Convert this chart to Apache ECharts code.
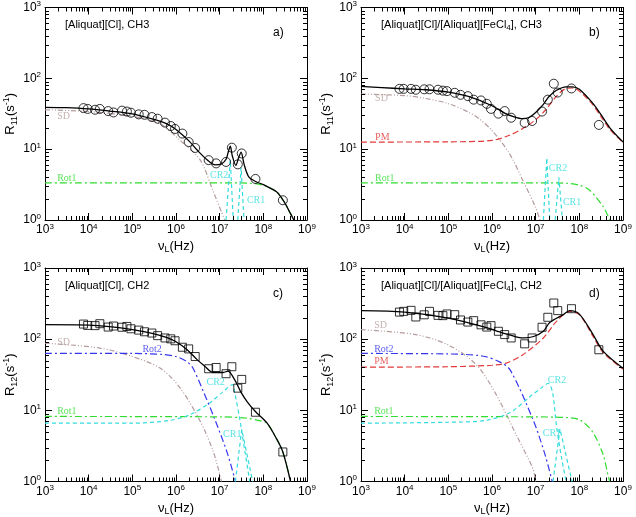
<!DOCTYPE html>
<html>
<head>
<meta charset="utf-8">
<script src="https://cdn.jsdelivr.net/npm/echarts@6/dist/echarts.min.js"></script>
<style>
  html, body { margin: 0; padding: 0; background: #fff; }
  #main { width: 636px; height: 517px; }
</style>
</head>
<body>
<div id="main"></div>
<script>
// Larmor frequencies of the measured points (Hz), same set in every panel
const freqs = [7.6e3, 9.5e3, 1.4e4, 1.8e4, 2.8e4, 3.7e4, 5.8e4, 7.5e4, 9.3e4, 1.4e5, 1.9e5, 2.8e5, 3.8e5,
  5.6e5, 7.6e5, 9.5e5, 1.4e6, 1.95e6, 2.75e6, 5.6e6, 8.3e6, 1.4e7, 1.9e7, 2.6e7, 3.2e7, 6.6e7, 2.8e8];

// measured relaxation rates (s^-1)
const ratesA = [38, 37, 36, 37, 34.5, 33, 35, 34, 32.7, 31, 30.6, 28.4, 26.9, 23.7, 21.2, 19.3, 16.6, 12.6, 10.4,
  7.0, 6.3, 6.6, 10.5, 6.1, 8.7, 3.8, 1.9];
const ratesB = [71, 71, 71, 69, 70, 70, 69, 67, 66, 62.5, 58.5, 56, 50, 48.7, 43.7, 37, 31.7, 34.5, 27.8,
  23.5, 25, 34, 50, 84, 63, 72, 22];
const ratesC = [163, 156, 155, 165, 148, 153, 147, 151, 140, 134, 127, 122, 112, 104, 101, 95, 77, 73, 57,
  38.4, 40, 32.7, 41, 20.5, 27.2, 9.4, 2.6];
const ratesD = [240, 246, 254, 205, 220, 246, 216, 214, 226, 221, 186, 174, 182, 159, 148, 155, 129, 116, 104,
  86, 104, 147, 203, 322, 252, 268, 71];

// fitted curves, [frequency, rate]
const fitA = [[1e3, 39], [3e3, 38.5], [1e4, 37], [3e4, 34.5], [1e5, 31.5], [3e5, 26.5], [6e5, 23], [1e6, 19],
  [2e6, 13], [3e6, 9.8], [5e6, 7.2], [8e6, 6.0], [1.1e7, 6.2], [1.4e7, 7.2], [1.6e7, 9.5], [1.75e7, 11],
  [1.95e7, 8], [2.35e7, 5.9], [2.7e7, 7.5], [3.1e7, 9.1], [3.6e7, 6.2], [4.6e7, 4.1], [6.6e7, 3.5],
  [1e8, 3.15], [2e8, 2.5], [3e8, 1.8], [4e8, 1.3], [5e8, 1.0]];
const sdA = [[1e3, 36], [1e4, 34], [1e5, 29], [3e5, 25], [5e5, 21.7], [1.25e6, 13.3], [3.6e6, 7], [7e6, 2.6], [1.3e7, 1]];
const rot1A = [[1e3, 3.35], [1e7, 3.35], [5e7, 3.3], [1e8, 3.1], [2e8, 2.5], [3e8, 1.8], [4e8, 1.3], [5e8, 1]];
const cr2A = [[1.4e7, 1], [1.75e7, 7], [2.05e7, 1]];
const cr1A = [[2.6e7, 1], [3.1e7, 5.5], [3.6e7, 1]];

const fitB = [[1e3, 77], [3e3, 74], [1e4, 71], [3e4, 69], [1e5, 64], [3e5, 55], [1e6, 41], [2e6, 32], [3e6, 29],
  [5e6, 27], [7e6, 28], [1e7, 33], [1.5e7, 43], [2e7, 55], [3e7, 68], [5e7, 76], [7e7, 76], [1e8, 70],
  [2e8, 45], [3e8, 32], [5e8, 20], [1e9, 12.6]];
const sdB = [[1e3, 60], [1e4, 57], [3e4, 52], [1e5, 44], [3e5, 33], [5e5, 27], [1e6, 18.4], [2.5e6, 8.7],
  [5e6, 3.7], [1e7, 1.5], [1.25e7, 1]];
const pmB = [[1e3, 12.6], [1e5, 12.7], [1e6, 13.3], [2.5e6, 15.7], [5e6, 19.5], [1e7, 26], [1.7e7, 36],
  [3e7, 56], [5e7, 72], [7e7, 73], [1e8, 66], [2e8, 43], [3e8, 30], [5e8, 19], [1e9, 12.4]];
const rot1B = [[1e3, 3.35], [1e7, 3.35], [5e7, 3.3], [1e8, 3.1], [1.7e8, 2.65], [3.5e8, 1.55], [5e8, 1]];
const cr2B = [[1.5e7, 1], [1.8e7, 7.5], [2.1e7, 1]];
const cr1B = [[2.8e7, 1], [3.4e7, 4], [4.1e7, 1]];

const fitC = [[1e3, 160], [1e4, 158], [3e4, 150], [1e5, 136], [3e5, 120], [6e5, 106], [1e6, 92], [1.8e6, 71],
  [3e6, 52], [4.5e6, 42], [7e6, 34], [1.2e7, 34], [1.55e7, 35.5], [2.2e7, 27], [3e7, 18.5], [4.2e7, 13.4],
  [6.5e7, 9.7], [1.2e8, 6.7], [2e8, 4.0], [2.8e8, 2.6], [4.2e8, 1]];
const sdC = [[1e3, 88], [1.8e4, 75], [1e5, 57], [4.4e5, 39], [1.25e6, 20.5], [3.6e6, 7], [7.2e6, 2.6], [1.1e7, 1]];
const rot2C = [[1e3, 63], [1e5, 63], [5e5, 61], [1e6, 57], [1.8e6, 48], [2.4e6, 40], [4e6, 20], [7.8e6, 7.4],
  [1.5e7, 2.5], [2.3e7, 1]];
const rot1C = [[1e3, 8.2], [1e7, 8.1], [4e7, 7.8], [7e7, 7.3], [1.2e8, 6.6], [2e8, 4.0], [2.8e8, 2.6], [4.2e8, 1]];
const cr2C = [[1e3, 6.6], [1e5, 6.6], [7e5, 7.2], [2.1e6, 8.7], [6e6, 12.8], [1.2e7, 18.3], [2e7, 23],
  [2.2e7, 18], [2.9e7, 7.4], [3.8e7, 2.6], [4.9e7, 1]];
const cr1C = [[2.3e7, 1], [3.2e7, 5.4], [5.7e7, 1]];

const fitD = [[1e3, 251], [1e4, 240], [1e5, 198], [6e5, 151], [1.8e6, 122], [4e6, 106], [5.5e6, 104], [9e6, 109],
  [1.5e7, 129], [2.1e7, 171], [4.3e7, 221], [6e7, 251], [1e8, 225], [2e8, 120], [3.5e8, 68], [1e9, 39]];
const sdD = [[1e3, 136], [1.8e4, 116], [1e5, 83], [4.4e5, 43.7], [1.25e6, 16.6], [3.6e6, 4.5], [8.7e6, 1.5], [1e7, 1]];
const rot2D = [[1e3, 63], [1e5, 62], [6e5, 58], [1.5e6, 48], [2.6e6, 37], [8.7e6, 7.4], [1.6e7, 2.5], [2.4e7, 1]];
const pmD = [[1e3, 40.5], [1e5, 41], [1e6, 43], [2.1e6, 46], [5e6, 60], [1.5e7, 104], [3e7, 178], [6e7, 245],
  [1e8, 222], [2e8, 113], [3.5e8, 65], [1e9, 38]];
const rot1D = [[1e3, 8.2], [1e7, 8.1], [5e7, 7.9], [1e8, 7.4], [2e8, 5.0], [3.5e8, 2.4], [4.5e8, 1.25], [5e8, 1]];
const cr2D = [[1e3, 6.6], [1e5, 6.8], [7e5, 7.2], [2.6e6, 9.3], [7.4e6, 15.6], [1.4e7, 21], [1.95e7, 24],
  [2.45e7, 17.5], [3e7, 6], [4e7, 2], [5e7, 1]];
const cr1D = [[2.5e7, 1], [3.6e7, 5.5], [6.8e7, 1]];

// panel texts
const panelTitles = ["[Aliquat][Cl], CH3", "[Aliquat][Cl]/[Aliquat][FeCl{s|4}], CH3",
  "[Aliquat][Cl], CH2", "[Aliquat][Cl]/[Aliquat][FeCl{s|4}], CH2"];
const panelTags = ["a)", "b)", "c)", "d)"];

const colors = { fit: "#000", sd: "#b59c9c", rot1: "#2fdc2f", rot2: "#3636ee", pm: "#e23a3a", cr: "#33dcdc" };
const dashes = { sd: [5, 2, 1, 2, 1, 2], rot1: [7, 3, 2, 3], rot2: [7, 3, 2, 3], pm: [6, 3], cr: [4, 3] };

// curve name tags: [text, freq, rate, colour key] (left edge of text)
const tagsA = [["SD", 1.9e3, 29, "sd"], ["Rot1", 1.9e3, 3.9, "rot1"], ["CR2", 6e6, 4.3, "cr"], ["CR1", 4.2e7, 1.9, "cr"]];
const tagsB = [["SD", 2.1e3, 52, "sd"], ["PM", 2.1e3, 14.8, "pm"], ["Rot1", 2.1e3, 3.9, "rot1"],
  ["CR2", 2e7, 5.4, "cr"], ["CR1", 4.2e7, 1.8, "cr"]];
const tagsC = [["SD", 1.9e3, 89, "sd"], ["Rot2", 1.7e5, 73, "rot2"], ["Rot1", 1.9e3, 9.6, "rot1"],
  ["CR2", 5e6, 24.5, "cr"], ["CR1", 1.2e7, 4.6, "cr"]];
const tagsD = [["SD", 2e3, 155, "sd"], ["Rot2", 2e3, 73, "rot2"], ["PM", 2e3, 48, "pm"], ["Rot1", 2e3, 9.6, "rot1"],
  ["CR2", 1.9e7, 26, "cr"], ["CR1", 1.45e7, 4.7, "cr"]];

const grids = [
  { left: 45, top: 7, width: 262, height: 213 },
  { left: 361, top: 7, width: 262, height: 213 },
  { left: 45, top: 268, width: 262, height: 214 },
  { left: 361, top: 268, width: 262, height: 214 },
];

const sans = "Liberation Sans, Arial, sans-serif";
const serif = "Liberation Serif, Times New Roman, serif";

const powRich = {
  b: { fontSize: 12, fontFamily: sans, color: "#000", lineHeight: 12 },
  e: { fontSize: 8, fontFamily: sans, color: "#000", lineHeight: 8, padding: [0, 0, 7, 0] },
};
function pow10(v) {
  return "{b|10}{e|" + Math.round(Math.log10(v)) + "}";
}

function makeAxis(i, pos, min, max, showLabel) {
  return {
    type: "log", logBase: 10, gridIndex: i, position: pos, min: min, max: max,
    axisLine: { show: true, onZero: false, lineStyle: { color: "#000", width: 1 } },
    axisTick: { show: true, inside: true, length: 7, lineStyle: { color: "#000", width: 1 } },
    splitLine: { show: false },
    axisLabel: { show: showLabel, formatter: pow10, rich: powRich, margin: 4 },
  };
}

const xAxes = [], yAxes = [];
grids.forEach((g, i) => {
  const xb = makeAxis(i, "bottom", 1e3, 1e9, true);
  xb.name = "{n|ν}{s|L}{n|(Hz)}";
  xb.nameLocation = "middle";
  xb.nameGap = 20;
  xb.nameTextStyle = { rich: {
    n: { fontSize: 13, fontFamily: sans, color: "#000", lineHeight: 13 },
    s: { fontSize: 9, fontFamily: sans, color: "#000", lineHeight: 9, padding: [7, 0, 0, 0] },
  } };
  xAxes.push(xb, makeAxis(i, "top", 1e3, 1e9, false));
  const yl = makeAxis(i, "left", 1, 1e3, true);
  yl.name = "{n|R}{s|" + (i < 2 ? "11" : "12") + "}{n|(s}{e|-1}{n|)}";
  yl.nameLocation = "middle";
  yl.nameRotate = 90;
  yl.nameGap = 27;
  yl.nameTextStyle = { rich: {
    n: { fontSize: 13, fontFamily: sans, color: "#000", lineHeight: 13 },
    s: { fontSize: 9, fontFamily: sans, color: "#000", lineHeight: 9, padding: [7, 0, 0, 0] },
    e: { fontSize: 9, fontFamily: sans, color: "#000", lineHeight: 9, padding: [0, 0, 8, 0] },
  } };
  yAxes.push(yl, makeAxis(i, "right", 1, 1e3, false));
});

const series = [];

function curve(i, data, key) {
  series.push({
    type: "line", xAxisIndex: 2 * i, yAxisIndex: 2 * i, data: data,
    showSymbol: false, symbol: "none", smooth: key === "cr" && data.length < 4 ? false : 0.3,
    lineStyle: { color: colors[key], width: key === "fit" ? 1.3 : 1.2, type: key === "fit" ? "solid" : dashes[key] },
    z: key === "fit" ? 5 : 3, silent: true, animation: false,
  });
}

function points(i, rates, symbol) {
  series.push({
    type: "scatter", xAxisIndex: 2 * i, yAxisIndex: 2 * i,
    data: freqs.map((f, k) => [f, rates[k]]),
    symbol: symbol, symbolSize: symbol === "rect" ? 8 : 9,
    itemStyle: { color: "rgba(0,0,0,0)", borderColor: "#000", borderWidth: 1 },
    z: 6, silent: true, animation: false,
  });
}

function tags(i, list) {
  series.push({
    type: "scatter", xAxisIndex: 2 * i, yAxisIndex: 2 * i, symbolSize: 0, silent: true, animation: false, z: 7,
    data: list.map(t => ({ name: t[0], value: [t[1], t[2]],
      label: { color: colors[t[3]] } })),
    label: { show: true, position: "inside", align: "left", verticalAlign: "middle", formatter: "{b}",
      fontFamily: serif, fontSize: 10 },
  });
}

// minor log ticks drawn on all four sides of each box
const minorMult = [2, 3, 4, 5, 6, 7, 8, 9];
const minorX = [], minorY = [];
[1e3, 1e4, 1e5, 1e6, 1e7, 1e8].forEach(d => minorMult.forEach(m => minorX.push([m * d, 1, 0])));
[1, 10, 100].forEach(d => minorMult.forEach(m => minorY.push([1e3, m * d, 1])));

function minorTicks(i) {
  series.push({
    type: "custom", xAxisIndex: 2 * i, yAxisIndex: 2 * i, silent: true, animation: false, clip: false, z: 8,
    data: minorX.concat(minorY),
    encode: { x: 0, y: 1 },
    renderItem: (params, api) => {
      const cs = params.coordSys;
      const p = api.coord([api.value(0), api.value(1)]);
      const st = { stroke: "#000", lineWidth: 1 };
      const L = 4;
      if (api.value(2) === 0) {
        const x = Math.round(p[0]) + 0.5;
        const b = cs.y + cs.height;
        return { type: "group", children: [
          { type: "line", shape: { x1: x, y1: b, x2: x, y2: b - L }, style: st },
          { type: "line", shape: { x1: x, y1: cs.y, x2: x, y2: cs.y + L }, style: st },
        ] };
      }
      const y = Math.round(p[1]) + 0.5;
      const r = cs.x + cs.width;
      return { type: "group", children: [
        { type: "line", shape: { x1: cs.x, y1: y, x2: cs.x + L, y2: y }, style: st },
        { type: "line", shape: { x1: r, y1: y, x2: r - L, y2: y }, style: st },
      ] };
    },
  });
}

// panel a
curve(0, sdA, "sd"); curve(0, rot1A, "rot1"); curve(0, cr2A, "cr"); curve(0, cr1A, "cr"); curve(0, fitA, "fit");
points(0, ratesA, "circle"); tags(0, tagsA);
// panel b
curve(1, sdB, "sd"); curve(1, pmB, "pm"); curve(1, rot1B, "rot1"); curve(1, cr2B, "cr"); curve(1, cr1B, "cr");
curve(1, fitB, "fit"); points(1, ratesB, "circle"); tags(1, tagsB);
// panel c
curve(2, sdC, "sd"); curve(2, rot2C, "rot2"); curve(2, rot1C, "rot1"); curve(2, cr2C, "cr"); curve(2, cr1C, "cr");
curve(2, fitC, "fit"); points(2, ratesC, "rect"); tags(2, tagsC);
// panel d
curve(3, sdD, "sd"); curve(3, rot2D, "rot2"); curve(3, pmD, "pm"); curve(3, rot1D, "rot1"); curve(3, cr2D, "cr");
curve(3, cr1D, "cr"); curve(3, fitD, "fit"); points(3, ratesD, "rect"); tags(3, tagsD);

[0, 1, 2, 3].forEach(minorTicks);

const titleRich = {
  n: { fontSize: 11, fontFamily: sans, color: "#000", lineHeight: 11 },
  s: { fontSize: 8, fontFamily: sans, color: "#000", lineHeight: 8, padding: [6, 0, 0, 0] },
};
const titles = [];
grids.forEach((g, i) => {
  const txt = panelTitles[i].split(/(\{s\|[^}]*\})/).map(p => p.startsWith("{s|") ? p : (p ? "{n|" + p + "}" : "")).join("");
  titles.push({ text: txt, left: g.left + 20, top: g.top + 12, padding: 0,
    textStyle: { fontWeight: "normal", rich: titleRich } });
  titles.push({ text: panelTags[i], left: g.left + 228, top: g.top + 20, padding: 0,
    textStyle: { fontWeight: "normal", fontSize: 12, fontFamily: sans, color: "#000" } });
});

const chart = echarts.init(document.getElementById("main"));
chart.setOption({
  backgroundColor: "#fff",
  animation: false,
  title: titles,
  grid: grids,
  xAxis: xAxes,
  yAxis: yAxes,
  series: series,
});
</script>
</body>
</html>
